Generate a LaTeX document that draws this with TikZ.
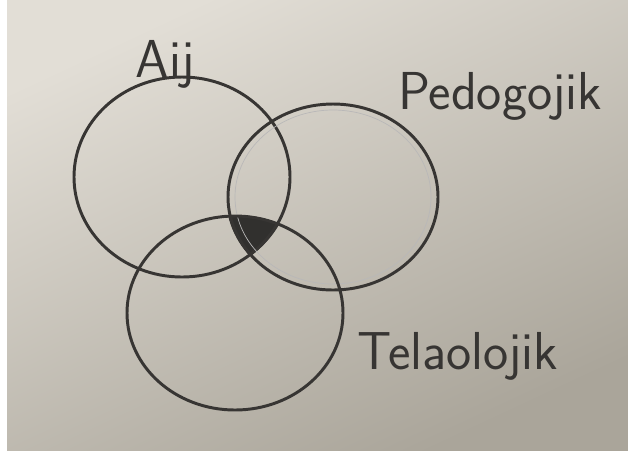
\documentclass[tikz,border=0pt]{standalone}
\usepackage{tikz}
\usepackage{xcolor}
\definecolor{paperlight}{RGB}{226,222,214}
\definecolor{paperdark}{RGB}{170,165,154}
\definecolor{pencil}{RGB}{55,53,51}
\tikzset{
  set/.style={line width=2.1pt,draw=pencil},
  faint/.style={line width=0.5pt,draw=pencil!35},
  core/.style={fill=pencil!90!black},
  hand/.style={text=pencil,font=\sffamily\fontsize{38}{42}\selectfont,inner sep=0pt}
}

\begin{document}
\begin{tikzpicture}[x=0.025cm,y=-0.025cm]
  % paper
  \useasboundingbox (0,0) rectangle (628,450);
  \shade[top color=paperlight,bottom color=paperdark,shading angle=25] (7,0) rectangle (628,450);
  \fill[white] (0,0) rectangle (7,450);

  \coordinate (cA) at (182,177);
  \coordinate (cP) at (333,197);
  \coordinate (cT) at (235,313);

  % common part of the three sets
  \begin{scope}
    \clip (cA) ellipse [x radius=110,y radius=101];
    \clip (cP) ellipse [x radius=107,y radius=94];
    \fill[core] (cT) ellipse [x radius=109,y radius=98];
  \end{scope}

  \draw[set] (cA) ellipse [x radius=108,y radius=100];
  \draw[set] (cP) ellipse [x radius=105,y radius=93];
  \draw[faint] (cP) ellipse [x radius=98,y radius=87];
  \draw[set] (cT) ellipse [x radius=108,y radius=97];

  \node[hand] (lA) at (165,64) {Aij};
  \node[hand] (lP) at (500,96) {Pedogojik};
  \node[hand] (lT) at (458,356) {Telaolojik};
\end{tikzpicture}
\end{document}
